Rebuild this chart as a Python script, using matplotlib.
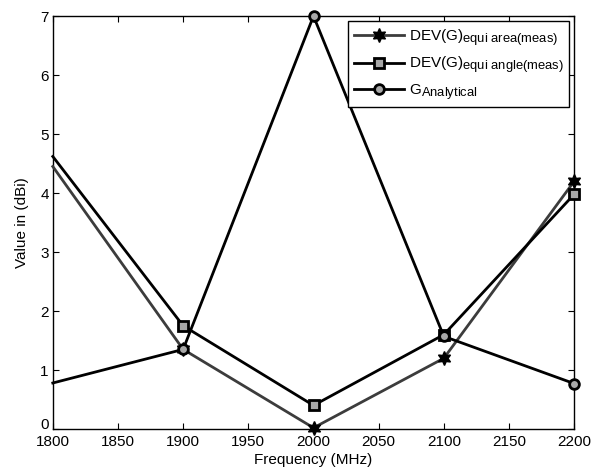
import matplotlib
matplotlib.use("Agg")
import matplotlib.pyplot as plt
import matplotlib._mathtext as _mt

# larger subscripts in the legend labels
_mt.SHRINK_FACTOR = 0.85

plt.rcParams['font.family'] = ['Liberation Sans', 'DejaVu Sans']
plt.rcParams['mathtext.fontset'] = 'custom'
plt.rcParams['mathtext.rm'] = 'Liberation Sans'
plt.rcParams['mathtext.it'] = 'Liberation Sans'

freq = [1800, 1900, 2000, 2100, 2200]
dev_equi_area = [4.45, 1.35, 0.02, 1.20, 4.20]
dev_equi_angle = [4.62, 1.75, 0.40, 1.60, 3.98]
g_analytical = [0.78, 1.35, 7.00, 1.57, 0.77]

labels = [r'DEV(G)$_{\rm equi\ area(meas)}$',
          r'DEV(G)$_{\rm equi\ angle(meas)}$',
          r'G$_{\rm Analytical}$']

fig = plt.figure(figsize=(6.0, 4.73), dpi=100)
ax = fig.add_axes([0.088, 0.093, 0.869, 0.873])

marks = [1, 2, 3, 4]
ax.plot(freq, dev_equi_area, color='#3c3c3c', lw=2, marker=(6, 1, 0), ms=10,
        mfc='black', mec='black', mew=1, markevery=marks, clip_on=False,
        label=labels[0], zorder=3)
ax.plot(freq, dev_equi_angle, color='black', lw=2, marker='s', ms=7,
        mfc='#a8a8a8', mec='black', mew=2, markevery=marks, clip_on=False,
        label=labels[1], zorder=3)
ax.plot(freq, g_analytical, color='black', lw=2, marker='o', ms=7,
        mfc='#a8a8a8', mec='black', mew=2, markevery=marks, clip_on=False,
        label=labels[2], zorder=3)

ax.set_xlim(1800, 2200)
ax.set_ylim(0, 7)
ax.set_xticks(range(1800, 2201, 50))
ax.set_yticks(range(0, 8))
ax.tick_params(direction='in', top=True, right=True, labelsize=11, length=4,
               width=0.8)
ax.tick_params(axis='x', pad=4)
ax.tick_params(axis='y', pad=3)
ax.get_yticklabels()[0].set_verticalalignment('baseline')
for s in ax.spines.values():
    s.set_linewidth(1.0)

ax.set_xlabel('Frequency (MHz)', fontsize=11, labelpad=3)
ax.set_ylabel('Value in (dBi)', fontsize=11, labelpad=8)

leg = ax.legend(loc='upper right', fontsize=11, handlelength=3.3,
                handletextpad=0.3, frameon=True, fancybox=False,
                borderaxespad=0.35, labelspacing=0.45, borderpad=0.35)
leg.get_frame().set_edgecolor('black')
leg.get_frame().set_linewidth(1.0)
leg.get_frame().set_alpha(1)

fig.savefig('out.png', dpi=100)
